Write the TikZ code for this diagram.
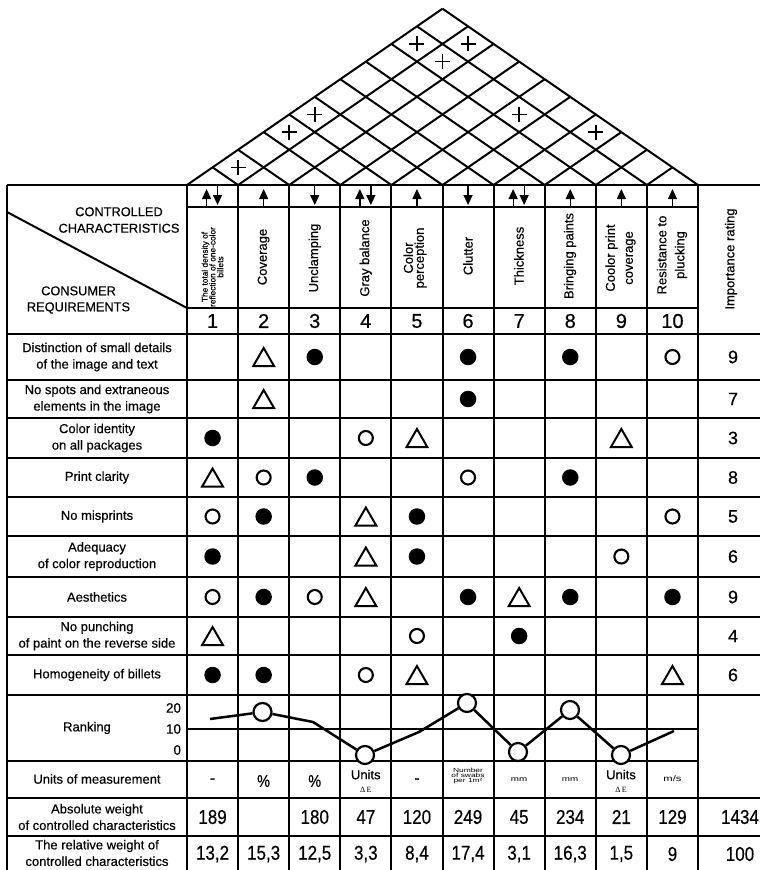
\documentclass[tikz,border=0pt]{standalone}
\usepackage{fontspec}
\setmainfont[FakeBold=0.4]{Liberation Sans}
\newfontfamily\numf[FakeStretch=0.85,FakeBold=0.4]{Liberation Sans}
\newfontfamily\widef[FakeStretch=1.4]{Liberation Sans}
\newfontfamily\serf{Liberation Serif}
\usetikzlibrary{arrows.meta,shapes.geometric}
\begin{document}
\begin{tikzpicture}[x=1pt,y=-1pt, line width=2pt,
  lbl/.style={font=\fontsize{13}{16.5}\selectfont, align=center, inner sep=0pt},
  rot/.style={rotate=90, font=\fontsize{13}{13}\selectfont, align=center, inner sep=0pt},
  big/.style={font=\numf\fontsize{20}{20}\selectfont, inner sep=0pt},
  hnum/.style={font=\fontsize{20}{20}\selectfont, inner sep=0pt},
  tiny/.style={font=\widef\fontsize{6}{5}\selectfont, align=center, inner sep=0pt},
  symf/.style={circle, fill=black, minimum size=16.5pt, inner sep=0pt},
  symo/.style={circle, draw, line width=2.1pt, minimum size=14pt, inner sep=0pt, fill=white},
  symt/.style={regular polygon, regular polygon sides=3, draw, line width=2pt, minimum size=24pt, inner sep=0pt, yshift=-3pt},
  rk/.style={circle, draw, fill=white, line width=2.2pt, minimum size=18pt, inner sep=0pt},
  arr/.style={line width=1.3pt, -{Triangle[length=10pt,width=9pt]}},
  plusmark/.style={line width=1.5pt}
]
\useasboundingbox (0,0) rectangle (760,870);

% ---------- roof ----------
\foreach \k in {0,...,10}{
  \draw ({187+51.1*\k},185) -- ({187+51.1*(\k+10)/2},{185-17.63*(10-\k)});
  \draw ({187+51.1*\k},185) -- ({187+51.1*\k/2},{185-17.63*\k});
}
% plus signs in roof cells (i,j)
\foreach \i/\j in {1/2,1/4,1/5,1/9,2/10,2/9,5/9,7/10}{
  \coordinate (p\i-\j) at ({187+51.1*(\i+\j-1)/2},{185-17.63*(\j-\i)});
  \draw[plusmark] ([xshift=-7.5pt]p\i-\j) -- ([xshift=7.5pt]p\i-\j);
  \draw[plusmark] ([yshift=-7.5pt]p\i-\j) -- ([yshift=7.5pt]p\i-\j);
}

% ---------- table grid ----------
\draw (7,185) -- (790,185);
\draw (7,185) -- (7,880);
\foreach \k in {0,...,10} \draw ({187+51.1*\k},185) -- ({187+51.1*\k},880);
\draw (783,185) -- (783,880);
\draw (187,207) -- (698,207);
\draw (187,308) -- (698,308);
\foreach \yy in {334,380,418,458,497,536,577,617,655,695,798,836} \draw (7,\yy) -- (790,\yy);
\draw (187,729) -- (698,729);
\draw (7,761) -- (698,761);
\draw (7,212) -- (187,308);

% ---------- header arrows ----------
\foreach \k/\dx in {1/-6,2/0,4/-6,5/0,7/-6,8/0,9/0,10/0}{
  \coordinate (ua\k) at ({187+51.1*(\k-0.5)+\dx},207);
  \coordinate (ub\k) at ({187+51.1*(\k-0.5)+\dx},189);
  \draw[arr] (ua\k) -- (ub\k);
}
\foreach \k/\dx in {1/5,3/0,4/5,6/0,7/5}{
  \coordinate (da\k) at ({187+51.1*(\k-0.5)+\dx},186);
  \coordinate (db\k) at ({187+51.1*(\k-0.5)+\dx},205);
  \draw[arr] (da\k) -- (db\k);
}

% ---------- header texts ----------
\node[font=\fontsize{12.8}{16.5}\selectfont, align=center, inner sep=0pt] (cc) at (119,220) {CONTROLLED\\CHARACTERISTICS};
\node[font=\fontsize{12.8}{16}\selectfont, align=center, inner sep=0pt] (cr) at (78.5,300) {CONSUMER\\REQUIREMENTS};

\node[rot, font=\fontsize{8.3}{7.8}\selectfont] (h1) at (212.5,267) {The total density of\\reflection of one-color\\billets};
\node[rot] (h2) at (263.6,257) {Coverage};
\node[rot] (h3) at (314.7,258) {Unclamping};
\node[rot] (h4) at (365.8,258) {Gray balance};
\node[rot, font=\fontsize{13}{11}\selectfont] (h5) at (415,258) {Color\\perception};
\node[rot] (h6) at (468,256) {Clutter};
\node[rot] (h7) at (519,256) {Thickness};
\node[rot] (h8) at (570,256) {Bringing paints};
\node[rot, font=\fontsize{13}{18}\selectfont] (h9) at (620.5,258) {Coolor print\\coverage};
\node[rot, font=\fontsize{13}{18}\selectfont] (h10) at (672,255) {Resistance to\\plucking};
\node[rot] (himp) at (731,259) {Importance rating};

\foreach \k in {1,...,10} \node[hnum] (n\k) at ({187+51.1*(\k-0.5)},321) {\k};

% ---------- row labels ----------
\node[lbl] (r1) at (97,357) {Distinction of small details\\of the image and text};
\node[lbl] (r2) at (97,399) {No spots and extraneous\\elements in the image};
\node[lbl] (r3) at (97,438) {Color identity\\on all packages};
\node[lbl] (r4) at (97,477.5) {Print clarity};
\node[lbl] (r5) at (97,516.5) {No misprints};
\node[lbl] (r6) at (97,556.5) {Adequacy\\of color reproduction};
\node[lbl] (r7) at (97,597) {Aesthetics};
\node[lbl] (r8) at (97,636) {No punching\\of paint on the reverse side};
\node[lbl] (r9) at (97,675) {Homogeneity of billets};

% importance values
\foreach \r/\v/\yy in {1/9/357,2/7/399,3/3/438,4/8/477.5,5/5/516.5,6/6/556.5,7/9/597,8/4/636,9/6/675}
  \node[font=\fontsize{18}{18}\selectfont, inner sep=0pt] (iv\r) at (733,\yy) {\v};

% ---------- relation symbols ----------
\def\rowc{{357,399,438,477.5,516.5,556.5,597,636,675}}
\foreach \r/\c/\s in {1/2/t,1/3/f,1/6/f,1/8/f,1/10/o,
                      2/2/t,2/6/f,
                      3/1/f,3/4/o,3/5/t,3/9/t,
                      4/1/t,4/2/o,4/3/f,4/6/o,4/8/f,
                      5/1/o,5/2/f,5/4/t,5/5/f,5/10/o,
                      6/1/f,6/4/t,6/5/f,6/9/o,
                      7/1/o,7/2/f,7/3/o,7/4/t,7/6/f,7/7/t,7/8/f,7/10/f,
                      8/1/t,8/5/o,8/7/f,
                      9/1/f,9/2/f,9/4/o,9/5/t,9/10/t}{
  \pgfmathsetmacro\yy{\rowc[\r-1]}
  \node[sym\s] (s\r-\c) at ({187+51.1*(\c-0.5)},\yy) {};
}

% ---------- ranking ----------
\node[lbl] (rank) at (87,728) {Ranking};
\node[font=\fontsize{13.5}{13.5}\selectfont, anchor=east, inner sep=0pt] (k20) at (182,708) {20};
\node[font=\fontsize{13.5}{13.5}\selectfont, anchor=east, inner sep=0pt] (k10) at (182,729) {10};
\node[font=\fontsize{13.5}{13.5}\selectfont, anchor=east, inner sep=0pt] (k0) at (182,750) {0};

\coordinate (q1) at (210,719);
\node[rk] (q2) at (262.5,712) {};
\coordinate (q3) at (313,722);
\node[rk] (q4) at (365,755) {};
\coordinate (q5) at (419,732);
\node[rk] (q6) at (467,703) {};
\node[rk] (q7) at (518,752) {};
\node[rk] (q8) at (570,710) {};
\node[rk] (q9) at (621,755) {};
\coordinate (q10) at (674,731);
\draw[line width=2.5pt, line join=round] (q1) -- (q2) -- (q3) -- (q4) -- (q5) -- (q6) -- (q7) -- (q8) -- (q9) -- (q10);

% ---------- units ----------
\node[lbl] (um) at (97,779) {Units of measurement};
\node[big, font=\numf\fontsize{17}{17}\selectfont] (u1) at (212.5,781) {-};
\node[big, font=\numf\fontsize{17}{17}\selectfont] (u2) at (263.6,781) {\%};
\node[big, font=\numf\fontsize{17}{17}\selectfont] (u3) at (314.7,781) {\%};
\node[font=\fontsize{13}{13}\selectfont, align=center, inner sep=0pt] (u4) at (365.8,781) {Units\\{\serf\fontsize{8}{8}\selectfont Δ\,E}};
\node[big, font=\numf\fontsize{17}{17}\selectfont] (u5) at (417,781) {-};
\node[tiny] (u6) at (468,775.5) {Number\\of swabs\\per 1m²};
\node[tiny, font=\widef\fontsize{7}{7}\selectfont] (u7) at (519,780) {mm};
\node[tiny, font=\widef\fontsize{7}{7}\selectfont] (u8) at (570,780) {mm};
\node[font=\fontsize{13}{13}\selectfont, align=center, inner sep=0pt] (u9) at (621,781) {Units\\{\serf\fontsize{8}{8}\selectfont Δ\,E}};
\node[tiny, font=\widef\fontsize{8}{8}\selectfont] (u10) at (672.5,779) {m/s};

% ---------- weights ----------
\node[lbl] (aw) at (97,817) {Absolute weight\\of controlled characteristics};
\foreach \k/\v in {1/189,3/180,4/47,5/120,6/249,7/45,8/234,9/21,10/129}
  \node[big] (a\k) at ({187+51.1*(\k-0.5)},817) {\v};
\node[big] (atot) at (740,817) {1434};

\node[lbl] (rw) at (97,853) {The relative weight of\\controlled characteristics};
\foreach \k/\v in {1/13{,}2,2/15{,}3,3/12{,}5,4/3{,}3,5/8{,}4,6/17{,}4,7/3{,}1,8/16{,}3,9/1{,}5,10/9}
  \node[big] (w\k) at ({187+51.1*(\k-0.5)},854) {\v};
\node[big] (wtot) at (740,854) {100};
\end{tikzpicture}
\end{document}
